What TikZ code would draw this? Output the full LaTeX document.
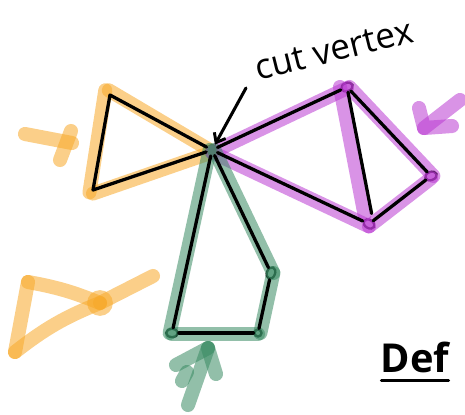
\documentclass[tikz,border=0pt]{standalone}
\usepackage{fontspec}
\setsansfont{Open Sans}
\usetikzlibrary{arrows.meta, shapes.geometric}
\definecolor{hlorange}{RGB}{247,168,40}
\definecolor{hlpurple}{RGB}{186,58,210}
\definecolor{hlgreen}{RGB}{56,138,98}
\tikzset{
    cvline/.style={line width=2.8pt, line cap=round, line join=round},
    cvhl/.style={line width=12pt, line cap=round, line join=round, opacity=0.55},
    cvdot/.style={ellipse, draw, line width=2pt, inner sep=0pt, minimum width=10pt, minimum height=7pt},
    cvcut/.style={circle, fill, inner sep=0pt, minimum size=10pt},
    cvpointer/.style={-{Straight Barb[length=7pt, width=11pt, line width=2.5pt]}, line width=2.6pt, line cap=round},
    cvblob/.style={circle, fill, opacity=0.55, inner sep=0pt, minimum size=22pt}
}
\begin{document}
\begin{tikzpicture}[x=0.03cm, y=-0.03cm]
  \useasboundingbox (0,0) rectangle (465,415);
  % vertices of the three blocks
  \node[cvcut] (cut) at (212,150) {};
  \coordinate (o1) at (110,95);
  \coordinate (o2) at (93,190);
  \node[cvdot, rotate=20] (p1) at (347,87) {};
  \node[cvdot, rotate=20] (p2) at (431,176) {};
  \node[cvdot, rotate=-30] (p3) at (369,224) {};
  \node[cvdot] (g1) at (172,333) {};
  \node[cvdot, rotate=70] (g3) at (271,273) {};
  \node[cvdot, minimum width=6pt, minimum height=6pt] (g2) at (258,333) {};
  % highlights: orange block (drawn a little outside the edges)
  \draw[cvhl, hlorange] ([xshift=-2pt]cut.center) -- ([xshift=-1pt, yshift=4pt]o1);
  \draw[cvhl, hlorange] ([xshift=-4pt, yshift=4pt]o1) -- ([xshift=-3pt, yshift=-2pt]o2);
  \draw[cvhl, hlorange] ([yshift=-3pt]o2) -- ([yshift=-2pt]cut.center);
  % highlights: purple block
  \draw[cvhl, hlpurple] ([yshift=-2pt]cut.center) -- ([yshift=-1pt]p1.center);
  \draw[cvhl, hlpurple] ([xshift=2pt]p1.center) -- ([xshift=2pt]p2.center);
  \draw[cvhl, hlpurple] ([yshift=-2pt]p2.center) -- ([yshift=-2pt]p3.center);
  \draw[cvhl, hlpurple] ([yshift=-2pt]p3.center) -- ([yshift=-2pt]cut.center);
  \draw[cvhl, hlpurple] ([xshift=-6pt]p1.center) -- ([xshift=-6pt, yshift=4pt]p3.north);
  % highlights: green block
  \draw[cvhl, hlgreen] ([xshift=-2pt]cut.center) -- ([xshift=-2pt]g1.center);
  \draw[cvhl, hlgreen] ([yshift=-1pt]g1.center) -- ([yshift=-1pt]g2.center);
  \draw[cvhl, hlgreen] ([xshift=2pt]g2.center) -- ([xshift=2pt]g3.center);
  \draw[cvhl, hlgreen] ([xshift=2pt]g3.center) -- ([xshift=2pt]cut.center);
  % black edges
  \draw[cvline] (cut) -- (o1) -- (o2) -- (cut);
  \draw[cvline] (cut) -- (p1);
  \draw[cvline] (p1) -- (p2);
  \draw[cvline] (p2) -- (p3);
  \draw[cvline] (p3) -- (cut);
  \draw[cvline] (p1) -- ([yshift=5pt]p3.north);
  \draw[cvline] (cut) -- (g1);
  \draw[cvline] (g1) -- (g2);
  \draw[cvline] (g2) -- (g3);
  \draw[cvline] (g3) -- (cut);
  % hand-drawn arrows pointing at the blocks
  \coordinate (oa1) at (25,134);
  \coordinate (oa2) at (72,143);
  \coordinate (oa3) at (71,131);
  \coordinate (oa4) at (60,160);
  \draw[cvhl, hlorange] (oa1) -- (oa2);
  \draw[cvhl, hlorange] (oa3) -- (oa4);
  \coordinate (pa1) at (460,100);
  \coordinate (pa2) at (424,128);
  \coordinate (pa3) at (419,108);
  \coordinate (pa4) at (452,126);
  \draw[cvhl, hlpurple] (pa1) -- (pa2);
  \draw[cvhl, hlpurple] (pa3) -- (pa2) -- (pa4);
  \coordinate (ga1) at (188,405);
  \coordinate (ga2) at (208,348);
  \coordinate (ga3) at (176,365);
  \coordinate (ga4) at (216,374);
  \coordinate (ga5) at (182,381);
  \draw[cvhl, hlgreen] (ga1) -- (ga2);
  \draw[cvhl, hlgreen] (ga3) -- (ga2);
  \draw[cvhl, hlgreen] (ga4) -- (ga2);
  \draw[cvhl, hlgreen] (ga5) -- ++(5,-9);
  % small orange bow-tie sketch
  \coordinate (l1) at (28,282);
  \coordinate (l2) at (15,352);
  \coordinate (l3) at (100,303);
  \coordinate (l4) at (153,276);
  \draw[cvhl, hlorange] (l1) to[bend left=6] (l3);
  \draw[cvhl, hlorange] (l1) -- (l2);
  \draw[cvhl, hlorange] (l2) to[bend left=8] (l3);
  \draw[cvhl, hlorange] (l3) -- (l4);
  \node[cvblob, hlorange] (lb) at (l3) {};
  % label for the cut vertex
  \node[font=\sffamily\fontsize{30}{30}\selectfont, rotate=14] (cvlabel) at (334,50) {cut vertex};
  \coordinate (ptr) at (246,88);
  \draw[cvpointer] (ptr) -- (cut);
  % corner mark
  \node[font=\sffamily\bfseries\fontsize{34}{34}\selectfont] (def) at (415,357) {Def};
  \draw[line width=2.6pt, line cap=round] ([yshift=-3pt, xshift=4pt]def.south west) -- ([yshift=-3pt, xshift=-4pt]def.south east);
\end{tikzpicture}
\end{document}
